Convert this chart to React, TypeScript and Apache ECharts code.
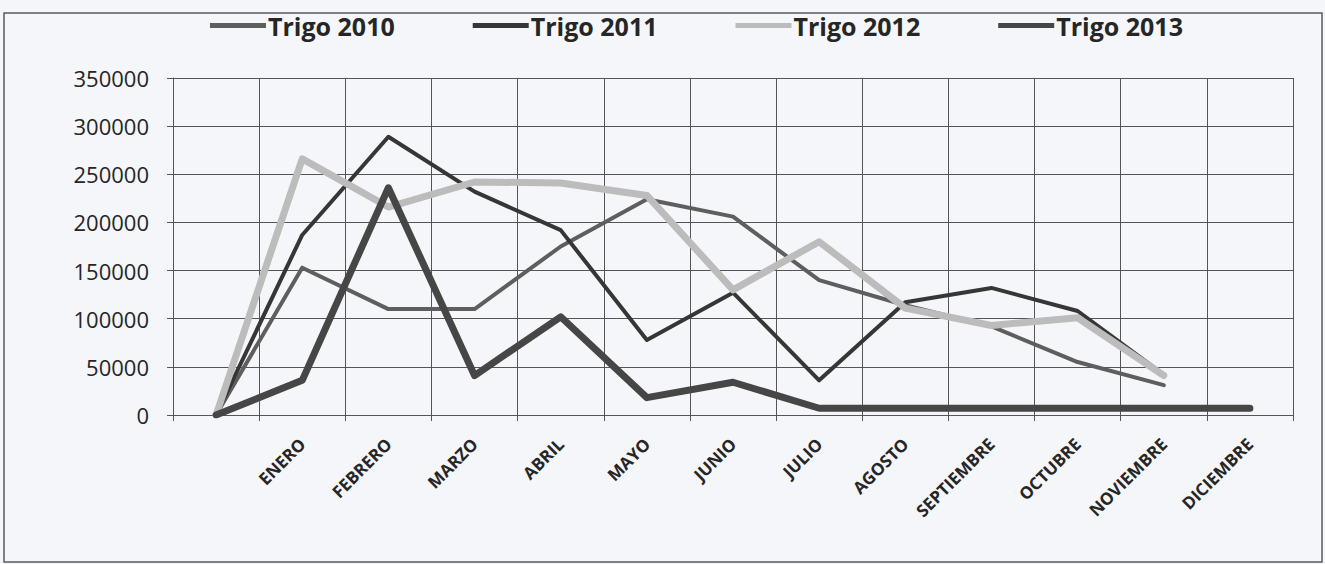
import React, { useEffect, useRef } from "react";
import * as echarts from "echarts";

const categories = ["", "ENERO", "FEBRERO", "MARZO", "ABRIL", "MAYO", "JUNIO", "JULIO", "AGOSTO", "SEPTIEMBRE", "OCTUBRE", "NOVIEMBRE", "DICIEMBRE"];
const trigo2010 = [0, 153000, 110000, 110000, 175000, 224000, 206000, 140000, 114000, 92000, 55000, 31000, null];
const trigo2011 = [0, 187000, 289000, 232000, 192000, 78000, 127000, 36000, 117000, 132000, 108000, 42000, null];
const trigo2012 = [0, 266000, 216000, 242000, 241000, 228000, 130000, 180000, 111000, 93000, 101000, 41000, null];
const trigo2013 = [0, 36000, 236000, 41000, 102000, 18000, 34000, 7000, 7000, 7000, 7000, 7000, 7000];
const seriesNames = ["Trigo 2010", "Trigo 2011", "Trigo 2012", "Trigo 2013"];
const seriesColors = ["#5e5e5e", "#363636", "#bcbcbc", "#464646"];
const seriesWidths = [4, 4, 7, 7];

export default function App() {
  const ref = useRef<HTMLDivElement>(null);
  useEffect(() => {
    if (!ref.current) return;
    const chart = echarts.init(ref.current, null, { renderer: "svg" });
    const data = [trigo2010, trigo2011, trigo2012, trigo2013];
    chart.setOption({
      animation: false,
      backgroundColor: "#f4f6f9",
      graphic: [
        {
          type: "rect",
          shape: { x: 4, y: 13, width: 1318, height: 549 },
          style: { fill: "none", stroke: "#5a5a5a", lineWidth: 1.5 },
          silent: true,
        },
      ],
      legend: {
        top: 8,
        left: 205,
        icon: "rect",
        itemWidth: 56,
        itemHeight: 5,
        itemGap: 78,
        textStyle: {
          fontFamily: "Open Sans",
          fontWeight: "bold",
          fontSize: 25,
          color: "#262626",
          padding: [0, 0, 0, -3],
        },
        data: seriesNames,
      },
      grid: { left: 173, right: 32, top: 78, bottom: 149, containLabel: false },
      xAxis: {
        type: "category",
        data: categories,
        boundaryGap: true,
        axisLine: { show: true, lineStyle: { color: "#555", width: 1 } },
        axisTick: { show: true, length: 6, alignWithLabel: false, lineStyle: { color: "#555" } },
        splitLine: { show: true, lineStyle: { color: "#555", width: 1 } },
        axisLabel: {
          interval: 0,
          rotate: 45,
          margin: 26,
          fontFamily: "Open Sans",
          fontWeight: "bold",
          fontSize: 17,
          color: "#262626",
        },
      },
      yAxis: {
        type: "value",
        min: 0,
        max: 350000,
        interval: 50000,
        axisLine: { show: true, lineStyle: { color: "#555", width: 1 } },
        axisTick: { show: true, length: 6, lineStyle: { color: "#555" } },
        splitLine: { show: true, lineStyle: { color: "#555", width: 1 } },
        axisLabel: {
          margin: 24,
          fontFamily: "Open Sans",
          fontSize: 22,
          color: "#262626",
          formatter: (v: number) => String(v),
        },
      },
      series: seriesNames.map((name, i) => ({
        name,
        type: "line",
        data: data[i],
        showSymbol: false,
        symbol: "none",
        connectNulls: false,
        color: seriesColors[i],
        lineStyle: { color: seriesColors[i], width: seriesWidths[i], join: "round", cap: "round" },
        itemStyle: { color: seriesColors[i] },
      })),
    });
    return () => chart.dispose();
  }, []);
  return (
    <div
      ref={ref}
      style={{ position: "absolute", left: 0, top: 0, width: 1325, height: 564 }}
    />
  );
}
